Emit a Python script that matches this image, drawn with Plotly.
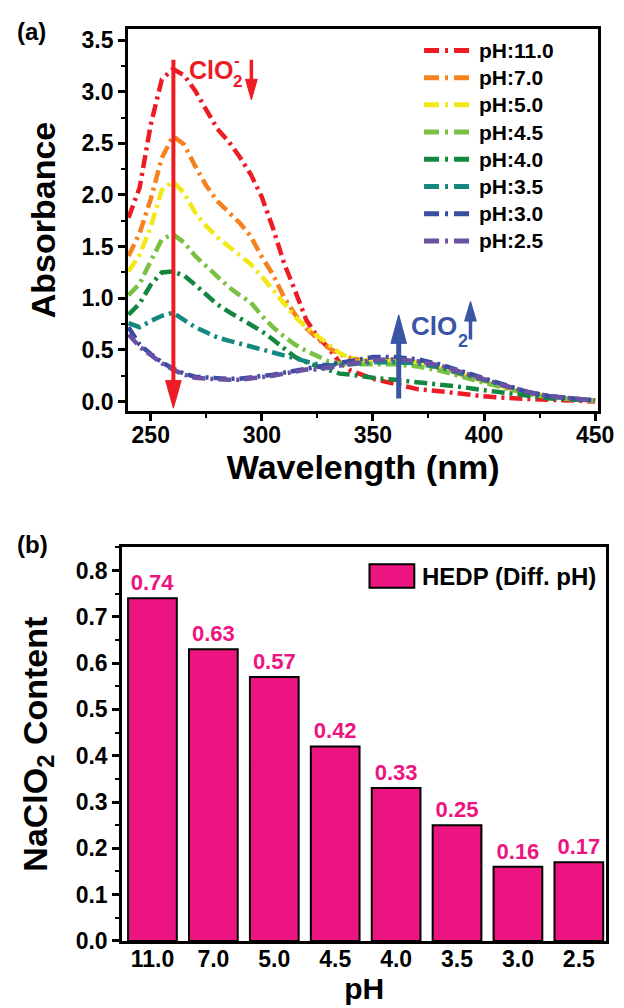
import plotly.graph_objects as go

# ---------------- data ----------------
wavelength = [240, 245, 250, 255, 260, 265, 270, 275, 280, 285, 290, 295, 300, 305, 310,
              315, 320, 325, 330, 335, 340, 345, 350, 360, 370, 380, 390, 400, 410, 420,
              430, 440, 450]

abs_ph11 = [1.78, 2.07, 2.68, 3.12, 3.22, 3.16, 3.01, 2.83, 2.64, 2.52, 2.37, 2.20, 1.98, 1.68, 1.34,
            1.07, 0.79, 0.63, 0.52, 0.38, 0.30, 0.26, 0.22, 0.17, 0.12, 0.10, 0.07, 0.05, 0.035, 0.02,
            0.015, 0.01, 0.0]
abs_ph7 = [1.41, 1.63, 1.96, 2.36, 2.57, 2.49, 2.28, 2.09, 1.94, 1.83, 1.73, 1.60, 1.40, 1.23, 1.01,
           0.84, 0.71, 0.61, 0.52, 0.46, 0.42, 0.40, 0.40, 0.39, 0.37, 0.33, 0.26, 0.20, 0.13, 0.08,
           0.05, 0.02, 0.01]
abs_ph5 = [1.26, 1.42, 1.69, 2.05, 2.13, 2.02, 1.83, 1.70, 1.59, 1.50, 1.41, 1.33, 1.21, 1.08, 0.94,
           0.82, 0.72, 0.64, 0.55, 0.47, 0.42, 0.40, 0.40, 0.40, 0.38, 0.33, 0.27, 0.20, 0.13, 0.08,
           0.05, 0.02, 0.01]
abs_ph45 = [1.03, 1.14, 1.36, 1.57, 1.62, 1.54, 1.41, 1.31, 1.20, 1.11, 1.03, 0.96, 0.83, 0.72, 0.63,
            0.55, 0.49, 0.44, 0.39, 0.37, 0.36, 0.36, 0.36, 0.36, 0.34, 0.30, 0.24, 0.18, 0.12, 0.07,
            0.04, 0.02, 0.01]
abs_ph4 = [0.84, 0.95, 1.13, 1.25, 1.26, 1.22, 1.13, 1.03, 0.94, 0.87, 0.81, 0.75, 0.68, 0.60, 0.51,
           0.43, 0.38, 0.34, 0.30, 0.27, 0.26, 0.24, 0.23, 0.21, 0.19, 0.17, 0.14, 0.11, 0.08, 0.05,
           0.03, 0.02, 0.01]
abs_ph35 = [0.76, 0.72, 0.78, 0.83, 0.86, 0.79, 0.72, 0.67, 0.62, 0.59, 0.56, 0.53, 0.50, 0.47, 0.44,
            0.41, 0.38, 0.36, 0.35, 0.35, 0.36, 0.37, 0.38, 0.38, 0.37, 0.33, 0.27, 0.21, 0.14, 0.09,
            0.05, 0.03, 0.01]
abs_ph3 = [0.72, 0.55, 0.46, 0.38, 0.32, 0.27, 0.24, 0.23, 0.22, 0.22, 0.22, 0.23, 0.24, 0.26, 0.28,
           0.30, 0.32, 0.33, 0.35, 0.37, 0.39, 0.41, 0.43, 0.43, 0.41, 0.36, 0.29, 0.22, 0.15, 0.09,
           0.05, 0.03, 0.01]
abs_ph25 = [0.65, 0.53, 0.45, 0.37, 0.31, 0.26, 0.23, 0.22, 0.21, 0.21, 0.21, 0.22, 0.23, 0.25, 0.27,
            0.29, 0.31, 0.31, 0.33, 0.35, 0.37, 0.39, 0.40, 0.41, 0.39, 0.35, 0.28, 0.22, 0.15, 0.09,
            0.05, 0.03, 0.01]

series_names = ["pH:11.0", "pH:7.0", "pH:5.0", "pH:4.5", "pH:4.0", "pH:3.5", "pH:3.0", "pH:2.5"]
series_values = [abs_ph11, abs_ph7, abs_ph5, abs_ph45, abs_ph4, abs_ph35, abs_ph3, abs_ph25]
series_colors = ["#ED1C24", "#F5821F", "#F2E817", "#7AC143", "#13873F", "#14877F", "#3B4DA0", "#6A51A3"]

ph_labels = ["11.0", "7.0", "5.0", "4.5", "4.0", "3.5", "3.0", "2.5"]
naclo2_content = [0.74, 0.63, 0.57, 0.42, 0.33, 0.25, 0.16, 0.17]

# ---------------- figure ----------------
W, H = 624, 1008
FONT = "Liberation Sans, Arial, sans-serif"
DASH = "13px,5px,3px,5px"
PINK = "#EC1481"
RED = "#ED1C24"
BLUE = "#3A55A4"

def px(x):
    return x / W

def py(y):
    return 1 - y / H

fig = go.Figure()

for name, vals, col in zip(series_names, series_values, series_colors):
    fig.add_trace(go.Scatter(x=wavelength, y=vals, mode="lines", name=name,
                             line=dict(color=col, width=4.5, dash=DASH),
                             showlegend=False, xaxis="x", yaxis="y"))

fig.add_trace(go.Bar(x=list(range(len(ph_labels))), y=naclo2_content, name="HEDP (Diff. pH)",
                     marker=dict(color=PINK, line=dict(color="black", width=2)),
                     texttemplate="%{y:.2f}", textposition="outside",
                     textfont=dict(color=PINK, size=22, family=FONT, weight="bold"),
                     cliponaxis=False, showlegend=False, xaxis="x2", yaxis="y2"))

tickfont = dict(family=FONT, size=23, color="black", weight="bold")
titlefont = dict(family=FONT, size=34, color="black", weight="bold")
axis_common = dict(showline=True, linewidth=2.5, linecolor="black", mirror=True,
                   ticks="outside", ticklen=7, tickwidth=2.5, tickcolor="black",
                   showgrid=False, zeroline=False, tickfont=tickfont)

XR = [239.7, 451.5]
YR = [-0.095, 3.61]
fig.update_layout(
    width=W, height=H,
    margin=dict(l=0, r=0, t=0, b=0),
    paper_bgcolor="white", plot_bgcolor="white",
    font=dict(family=FONT, color="black"),
    bargap=0.2,
    xaxis=dict(domain=[px(123), px(606)], range=XR, tick0=250, dtick=50,
               minor=dict(dtick=25, ticks="outside", ticklen=4, tickwidth=2, tickcolor="black"),
               title=dict(text="Wavelength (nm)", font=titlefont, standoff=0),
               ticklabelstandoff=-6,
               anchor="y", **axis_common),
    yaxis=dict(domain=[py(408), py(20)], range=YR, tick0=0, dtick=0.5, tickformat=".1f",
               minor=dict(dtick=0.25, ticks="outside", ticklen=4, tickwidth=2, tickcolor="black"),
               title=dict(text="Absorbance", font=titlefont, standoff=16),
               anchor="x", **axis_common),
    xaxis2=dict(domain=[px(117), px(614)], range=[-0.5, 7.45],
                tickmode="array", tickvals=list(range(len(ph_labels))), ticktext=ph_labels,
                title=dict(text="pH", font={**titlefont, "size": 30}, standoff=0),
                ticklabelstandoff=-4,
                anchor="y2", **{**axis_common, "ticks": ""}),
    yaxis2=dict(domain=[py(945), py(546)], range=[0, 0.85], dtick=0.1, tickformat=".1f",
                minor=dict(dtick=0.05, ticks="outside", ticklen=4, tickwidth=2, tickcolor="black"),
                title=dict(text="NaClO<sub>2</sub> Content", font=titlefont, standoff=18),
                anchor="x2", **axis_common),
)

shapes = []
annotations = []

# legend for panel (a)
for i, (name, col) in enumerate(zip(series_names, series_colors)):
    yy = 42 + 27.6 * i
    shapes.append(dict(type="line", xref="paper", yref="paper", x0=px(427), x1=px(477),
                       y0=py(yy), y1=py(yy), line=dict(color=col, width=5, dash="15px,6px,3px,6px")))
    annotations.append(dict(x=px(481), y=py(yy), xref="paper", yref="paper", text=name,
                            showarrow=False, xanchor="left", yanchor="middle",
                            font=dict(family=FONT, size=21, color="black", weight="bold")))

# legend for panel (b)
shapes.append(dict(type="rect", xref="paper", yref="paper", x0=px(371), x1=px(417),
                   y0=py(587), y1=py(563), fillcolor=PINK, line=dict(color="black", width=2)))
annotations.append(dict(x=px(423), y=py(575), xref="paper", yref="paper", text="HEDP (Diff. pH)",
                        showarrow=False, xanchor="left", yanchor="middle",
                        font=dict(family=FONT, size=24, color="black", weight="bold")))

# arrows in panel (a): scale helpers (data units per pixel)
x_per_px = (XR[1] - XR[0]) / (606 - 123)
y_per_px = (YR[1] - YR[0]) / (408 - 20)

def arrow(x, y_tail, y_tip, color, width, head_w, head_l):
    up = y_tip > y_tail
    hl = head_l * y_per_px * (1 if up else -1)
    shapes.append(dict(type="line", xref="x", yref="y", x0=x, x1=x, y0=y_tail, y1=y_tip - hl * 0.5,
                       line=dict(color=color, width=width)))
    hw = head_w / 2 * x_per_px
    shapes.append(dict(type="path", xref="x", yref="y",
                       path=f"M {x - hw},{y_tip - hl} L {x + hw},{y_tip - hl} L {x},{y_tip} Z",
                       fillcolor=color, line=dict(color=color, width=1)))

arrow(260.2, 3.31, -0.065, RED, 4, 16, 28)
arrow(295.3, 3.31, 2.92, RED, 3.5, 12, 21)
arrow(361.6, 0.03, 0.84, BLUE, 5, 16, 29)
arrow(393.9, 0.60, 0.97, BLUE, 3.5, 12, 20)

txtfont_red = dict(family=FONT, size=25, color=RED, weight="bold")
txtfont_blue = dict(family=FONT, size=26, color=BLUE, weight="bold")
annotations.append(dict(x=266.3, y=3.215, xref="x", yref="y", text="ClO", showarrow=False,
                        xanchor="left", yanchor="middle", font=txtfont_red))
annotations.append(dict(x=286.2, y=3.10, xref="x", yref="y", text="2", showarrow=False,
                        xanchor="left", yanchor="middle", font={**txtfont_red, "size": 17}))
annotations.append(dict(x=286.6, y=3.30, xref="x", yref="y", text="-", showarrow=False,
                        xanchor="left", yanchor="middle", font={**txtfont_red, "size": 17}))
annotations.append(dict(x=366.4, y=0.73, xref="x", yref="y", text="ClO", showarrow=False,
                        xanchor="left", yanchor="middle", font=txtfont_blue))
annotations.append(dict(x=387.6, y=0.59, xref="x", yref="y", text="2", showarrow=False,
                        xanchor="left", yanchor="middle", font={**txtfont_blue, "size": 18}))

# panel labels
annotations.append(dict(x=px(7), y=py(23), xref="paper", yref="paper", text="(a)", showarrow=False,
                        xanchor="left", yanchor="middle",
                        font=dict(family=FONT, size=24, color="black", weight="bold")))
annotations.append(dict(x=px(7), y=py(543), xref="paper", yref="paper", text="(b)", showarrow=False,
                        xanchor="left", yanchor="middle",
                        font=dict(family=FONT, size=24, color="black", weight="bold")))

fig.update_layout(shapes=shapes, annotations=annotations)
fig.write_html("out.html")
